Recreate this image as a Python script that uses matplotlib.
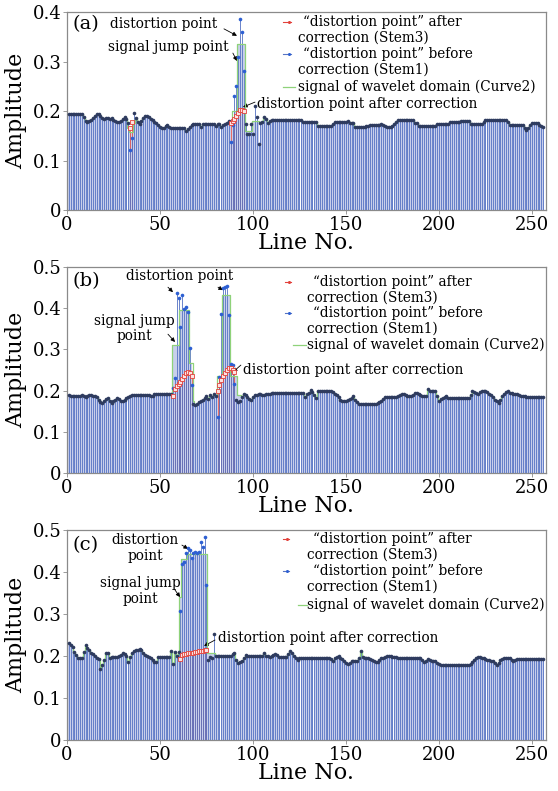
import numpy as np
import matplotlib
matplotlib.use('Agg')
import matplotlib.pyplot as plt
from matplotlib.lines import Line2D
from matplotlib.ticker import FuncFormatter

line_no = np.arange(1, 257)

# ---- panel (a) ----
stem1_a = [
    0.194, 0.194, 0.194, 0.194, 0.194, 0.194, 0.194, 0.194, 0.188, 0.180, 0.178, 0.179, 0.182, 0.186, 0.190, 0.194,
    0.194, 0.190, 0.186, 0.184, 0.185, 0.185, 0.183, 0.185, 0.182, 0.179, 0.178, 0.178, 0.180, 0.184, 0.188, 0.183,
    0.175, 0.121, 0.145, 0.196, 0.186, 0.178, 0.174, 0.180, 0.186, 0.189, 0.189, 0.187, 0.184, 0.181, 0.178, 0.175,
    0.172, 0.168, 0.166, 0.166, 0.170, 0.172, 0.168, 0.166, 0.166, 0.166, 0.166, 0.166, 0.166, 0.166, 0.166, 0.160,
    0.163, 0.168, 0.172, 0.174, 0.174, 0.174, 0.174, 0.168, 0.174, 0.174, 0.174, 0.174, 0.174, 0.174, 0.174, 0.170,
    0.174, 0.174, 0.168, 0.172, 0.174, 0.175, 0.180, 0.138, 0.172, 0.230, 0.250, 0.310, 0.385, 0.360, 0.280, 0.174,
    0.153, 0.153, 0.174, 0.153, 0.210, 0.188, 0.133, 0.175, 0.178, 0.188, 0.184, 0.175, 0.180, 0.182, 0.182, 0.182,
    0.182, 0.182, 0.182, 0.182, 0.182, 0.182, 0.182, 0.182, 0.182, 0.182, 0.182, 0.182, 0.182, 0.182, 0.177, 0.177,
    0.177, 0.177, 0.177, 0.177, 0.177, 0.177, 0.170, 0.170, 0.170, 0.170, 0.170, 0.170, 0.170, 0.170, 0.174, 0.177,
    0.177, 0.177, 0.177, 0.177, 0.177, 0.177, 0.179, 0.175, 0.175, 0.175, 0.168, 0.168, 0.168, 0.168, 0.168, 0.168,
    0.170, 0.170, 0.172, 0.172, 0.172, 0.172, 0.172, 0.172, 0.174, 0.172, 0.170, 0.168, 0.167, 0.167, 0.170, 0.174,
    0.178, 0.181, 0.181, 0.181, 0.181, 0.181, 0.181, 0.181, 0.181, 0.181, 0.176, 0.176, 0.170, 0.170, 0.170, 0.170,
    0.170, 0.170, 0.170, 0.170, 0.170, 0.170, 0.173, 0.173, 0.173, 0.173, 0.173, 0.173, 0.173, 0.177, 0.177, 0.177,
    0.177, 0.177, 0.177, 0.180, 0.180, 0.180, 0.180, 0.180, 0.174, 0.174, 0.174, 0.174, 0.174, 0.174, 0.174, 0.178,
    0.181, 0.181, 0.181, 0.181, 0.181, 0.181, 0.181, 0.181, 0.181, 0.181, 0.181, 0.181, 0.177, 0.172, 0.172, 0.172,
    0.172, 0.172, 0.172, 0.172, 0.172, 0.166, 0.162, 0.166, 0.172, 0.176, 0.176, 0.176, 0.176, 0.172, 0.170, 0.168,
]
stem3_a_x = [34, 35, 88, 89, 90, 91, 92, 93, 94, 95]
stem3_a_y = [0.166, 0.177, 0.176, 0.180, 0.184, 0.190, 0.196, 0.202, 0.203, 0.200]
curve2_a_x = [33, 34, 35, 36, 88, 89, 90, 91, 92, 93, 94, 95, 96, 97, 98, 99, 100, 101, 102, 103, 104]
curve2_a_y = [0.165, 0.158, 0.158, 0.175, 0.175, 0.200, 0.200, 0.200, 0.336, 0.336, 0.336, 0.336,
              0.160, 0.160, 0.160, 0.160, 0.180, 0.180, 0.180, 0.180, 0.178]

# ---- panel (b) ----
stem1_b = [
    0.190, 0.186, 0.186, 0.186, 0.186, 0.186, 0.188, 0.190, 0.186, 0.184, 0.188, 0.190, 0.190, 0.188, 0.186, 0.184,
    0.178, 0.172, 0.170, 0.176, 0.180, 0.181, 0.176, 0.170, 0.174, 0.178, 0.181, 0.180, 0.176, 0.175, 0.178, 0.182,
    0.185, 0.186, 0.190, 0.190, 0.190, 0.190, 0.190, 0.190, 0.190, 0.190, 0.190, 0.190, 0.188, 0.188, 0.193, 0.193,
    0.193, 0.193, 0.193, 0.193, 0.193, 0.193, 0.193, 0.193, 0.207, 0.230, 0.438, 0.424, 0.355, 0.433, 0.399, 0.403,
    0.391, 0.303, 0.214, 0.168, 0.165, 0.168, 0.172, 0.176, 0.178, 0.182, 0.186, 0.180, 0.190, 0.184, 0.193, 0.186,
    0.137, 0.234, 0.387, 0.448, 0.452, 0.455, 0.383, 0.264, 0.262, 0.216, 0.177, 0.173, 0.176, 0.185, 0.193, 0.190,
    0.185, 0.180, 0.177, 0.184, 0.190, 0.190, 0.192, 0.193, 0.190, 0.190, 0.192, 0.192, 0.192, 0.195, 0.195, 0.195,
    0.195, 0.195, 0.195, 0.195, 0.195, 0.195, 0.195, 0.195, 0.195, 0.195, 0.195, 0.195, 0.195, 0.195, 0.195, 0.185,
    0.192, 0.195, 0.201, 0.196, 0.190, 0.181, 0.198, 0.198, 0.198, 0.198, 0.198, 0.198, 0.198, 0.198, 0.196, 0.193,
    0.190, 0.184, 0.178, 0.176, 0.174, 0.176, 0.178, 0.180, 0.183, 0.186, 0.178, 0.172, 0.168, 0.168, 0.168, 0.168,
    0.168, 0.168, 0.168, 0.168, 0.168, 0.168, 0.170, 0.173, 0.176, 0.180, 0.185, 0.185, 0.185, 0.185, 0.185, 0.185,
    0.185, 0.188, 0.190, 0.192, 0.193, 0.190, 0.188, 0.186, 0.186, 0.190, 0.195, 0.195, 0.192, 0.190, 0.188, 0.186,
    0.186, 0.203, 0.200, 0.200, 0.198, 0.198, 0.188, 0.176, 0.180, 0.182, 0.184, 0.186, 0.182, 0.182, 0.182, 0.182,
    0.182, 0.182, 0.182, 0.182, 0.182, 0.182, 0.182, 0.182, 0.190, 0.198, 0.196, 0.194, 0.192, 0.196, 0.200, 0.198,
    0.198, 0.196, 0.193, 0.190, 0.185, 0.178, 0.174, 0.170, 0.178, 0.186, 0.192, 0.196, 0.200, 0.195, 0.195, 0.193,
    0.192, 0.192, 0.190, 0.188, 0.186, 0.186, 0.184, 0.184, 0.184, 0.184, 0.184, 0.184, 0.184, 0.184, 0.184, 0.184,
]
stem3_b_x = [57, 58, 59, 60, 61, 62, 63, 64, 65, 66, 67,
             81, 82, 83, 84, 85, 86, 87, 88, 89, 90]
stem3_b_y = [0.187, 0.205, 0.212, 0.215, 0.220, 0.228, 0.236, 0.242, 0.245, 0.243, 0.236,
             0.200, 0.214, 0.226, 0.236, 0.243, 0.250, 0.255, 0.256, 0.250, 0.246]
curve2_b_x = [57, 58, 59, 60, 61, 62, 63, 64, 65, 66, 67, 68,
              81, 82, 83, 84, 85, 86, 87, 88, 89, 90, 91, 92, 93]
curve2_b_y = [0.310, 0.310, 0.310, 0.310, 0.395, 0.395, 0.395, 0.395, 0.395, 0.268, 0.268, 0.175,
              0.236, 0.236, 0.236, 0.433, 0.433, 0.433, 0.433, 0.236, 0.236, 0.236, 0.236, 0.190, 0.190]

# ---- panel (c) ----
stem1_c = [
    0.230, 0.226, 0.221, 0.210, 0.202, 0.194, 0.194, 0.194, 0.210, 0.226, 0.220, 0.214, 0.208, 0.204, 0.200, 0.196,
    0.192, 0.170, 0.179, 0.190, 0.208, 0.208, 0.194, 0.198, 0.198, 0.198, 0.198, 0.200, 0.203, 0.206, 0.204, 0.200,
    0.186, 0.198, 0.207, 0.213, 0.214, 0.214, 0.216, 0.214, 0.206, 0.202, 0.200, 0.198, 0.194, 0.190, 0.186, 0.185,
    0.198, 0.198, 0.198, 0.198, 0.198, 0.198, 0.198, 0.212, 0.182, 0.210, 0.200, 0.210, 0.307, 0.420, 0.424, 0.444,
    0.456, 0.452, 0.433, 0.444, 0.448, 0.446, 0.448, 0.471, 0.460, 0.484, 0.370, 0.190, 0.198, 0.196, 0.252, 0.200,
    0.200, 0.200, 0.200, 0.200, 0.200, 0.200, 0.200, 0.200, 0.204, 0.208, 0.190, 0.184, 0.186, 0.189, 0.196, 0.202,
    0.200, 0.200, 0.200, 0.200, 0.200, 0.200, 0.200, 0.200, 0.200, 0.206, 0.200, 0.200, 0.197, 0.200, 0.202, 0.204,
    0.202, 0.198, 0.198, 0.198, 0.198, 0.198, 0.205, 0.211, 0.206, 0.201, 0.196, 0.190, 0.196, 0.196, 0.196, 0.196,
    0.196, 0.196, 0.196, 0.196, 0.196, 0.196, 0.196, 0.196, 0.196, 0.196, 0.196, 0.196, 0.196, 0.192, 0.187, 0.194,
    0.198, 0.200, 0.196, 0.192, 0.187, 0.184, 0.182, 0.184, 0.187, 0.188, 0.189, 0.189, 0.195, 0.211, 0.198, 0.196,
    0.194, 0.194, 0.192, 0.190, 0.188, 0.186, 0.185, 0.190, 0.196, 0.196, 0.198, 0.200, 0.200, 0.200, 0.198, 0.198,
    0.197, 0.196, 0.195, 0.195, 0.195, 0.195, 0.195, 0.195, 0.195, 0.195, 0.195, 0.195, 0.195, 0.195, 0.190, 0.185,
    0.188, 0.193, 0.190, 0.188, 0.187, 0.187, 0.184, 0.181, 0.179, 0.179, 0.179, 0.179, 0.179, 0.179, 0.179, 0.179,
    0.179, 0.179, 0.179, 0.179, 0.179, 0.179, 0.179, 0.179, 0.181, 0.186, 0.190, 0.195, 0.198, 0.198, 0.196, 0.194,
    0.192, 0.190, 0.190, 0.189, 0.187, 0.183, 0.178, 0.184, 0.190, 0.193, 0.194, 0.194, 0.194, 0.194, 0.191, 0.189,
    0.190, 0.192, 0.193, 0.193, 0.193, 0.193, 0.193, 0.193, 0.193, 0.193, 0.193, 0.193, 0.193, 0.193, 0.193, 0.193,
]
stem3_c_x = [61, 62, 63, 64, 65, 66, 67, 68, 69, 70, 71, 72, 73, 74, 75]
stem3_c_y = [0.192, 0.203, 0.205, 0.205, 0.206, 0.207, 0.207, 0.208, 0.209, 0.210, 0.211, 0.212, 0.213, 0.214, 0.215]
curve2_c_x = [61, 62, 63, 64, 65, 66, 67, 68, 69, 70, 71, 72, 73, 74, 75, 76, 77, 78, 79]
curve2_c_y = [0.340, 0.430, 0.430, 0.430, 0.442, 0.442, 0.442, 0.442, 0.442, 0.442, 0.442, 0.442, 0.442,
              0.442, 0.442, 0.207, 0.207, 0.207, 0.207]

legend_labels = ['\u201cdistortion point\u201d after', 'correction (Stem3)',
                 '\u201cdistortion point\u201d before', 'correction (Stem1)',
                 'signal of wavelet domain (Curve2)']

plt.rcParams['font.family'] = 'DejaVu Serif'

C_FILL = '#c8cfeb'
C_STEM = '#5774c4'
C_DOT = '#2e3b5f'
C_BLUE = '#2d5fd2'
C_RED = '#e2413b'
C_GREEN = '#8fd27a'
C_FRAME = '#8a8a8a'
FS = 9.8

fig = plt.figure(figsize=(5.58, 7.91), dpi=100)


def draw_panel(rect, stem1, s3x, s3y, c2x, c2y, ytop, tag, leg):
    ax = fig.add_axes(rect)
    v1 = np.array(stem1)
    curve = v1.copy()
    curve[np.array(c2x) - 1] = c2y
    mask = np.isin(line_no, s3x)

    ax.bar(line_no, curve, width=0.9, color=C_FILL, linewidth=0, zorder=1)
    ax.vlines(s3x, 0, s3y, color=C_RED, lw=0.55, zorder=2)
    ax.vlines(line_no, 0, v1, color=C_STEM, lw=0.62, zorder=3)
    ax.plot(line_no, curve, drawstyle='steps-mid', color=C_GREEN, lw=0.9, zorder=3.5)
    ax.plot(line_no[~mask], v1[~mask], 'o', ms=2.6, color=C_DOT, mew=0, zorder=4)
    ax.plot(line_no[mask], v1[mask], 'o', ms=2.6, color=C_BLUE, mew=0, zorder=4)
    ax.plot(s3x, s3y, 's', ms=2.2, mfc='#fbe3e1', mec=C_RED, mew=0.6, zorder=5)

    ax.set_xlim(0, 257.5)
    ax.set_ylim(0, ytop)
    ax.set_xticks([0, 50, 100, 150, 200, 250])
    ax.set_yticks(np.arange(0, ytop + 0.001, 0.1))
    ax.yaxis.set_major_formatter(FuncFormatter(lambda v, p: '0' if abs(v) < 1e-9 else '%.1f' % v))
    ax.tick_params(labelsize=13, length=3, width=0.6, color=C_FRAME, pad=1)
    for s in ax.spines.values():
        s.set_color(C_FRAME)
        s.set_linewidth(0.9)
    ax.set_xlabel('Line No.', fontsize=16, labelpad=-1)
    ax.set_ylabel('Amplitude', fontsize=16, labelpad=4)
    ax.text(0.012, tag[1], tag[0], transform=ax.transAxes, fontsize=14, va='center', ha='left')

    # legend drawn by hand, no frame
    tr = ax.transAxes
    rows = leg['rows']
    hx0, hx1, gx0, gx1, tx1, tx2 = leg['x']
    for r, lc, mc in ((rows[0], C_RED, C_RED), (rows[2], C_STEM, C_BLUE)):
        ax.add_line(Line2D([hx0, hx1], [r, r], transform=tr, color=lc, lw=0.8, zorder=6))
        ax.add_line(Line2D([hx1 - 0.004], [r], transform=tr, marker='o', ms=2.2, mew=0, color=mc, zorder=6))
    ax.add_line(Line2D([gx0, gx1], [rows[4], rows[4]], transform=tr, color=C_GREEN, lw=0.9, zorder=6))
    for i, lab in enumerate(legend_labels):
        tx = tx1 if i in (0, 2) else tx2
        ax.text(tx, rows[i], lab, transform=tr, fontsize=FS, va='center', ha='left', zorder=7)
    return ax


arrow = dict(arrowstyle='-|>', color='black', lw=0.6, mutation_scale=6, shrinkA=0, shrinkB=0)

# (a)
ax = draw_panel([0.120, 0.7345, 0.8584, 0.2503], stem1_a, stem3_a_x, stem3_a_y, curve2_a_x, curve2_a_y,
                0.4, ('(a)', 0.939),
                dict(rows=[0.949, 0.869, 0.788, 0.707, 0.621],
                     x=(0.451, 0.467, 0.451, 0.476, 0.493, 0.482)))
ax.text(52.2, 0.376, 'distortion point', fontsize=FS, ha='center', va='center')
ax.annotate('', xy=(91.4, 0.352), xytext=(84.4, 0.366), arrowprops=arrow)
ax.text(54.3, 0.329, 'signal jump point', fontsize=FS, ha='center', va='center')
ax.annotate('', xy=(91.4, 0.301), xytext=(89.2, 0.317), arrowprops=arrow)
ax.text(102.2, 0.214, 'distortion point after correction', fontsize=FS, ha='left', va='center')
ax.annotate('', xy=(94.6, 0.208), xytext=(101.1, 0.218), arrowprops=arrow)

# (b)
ax = draw_panel([0.120, 0.402, 0.8584, 0.2604], stem1_b, stem3_b_x, stem3_b_y, curve2_b_x, curve2_b_y,
                0.5, ('(b)', 0.932),
                dict(rows=[0.927, 0.850, 0.777, 0.699, 0.621],
                     x=(0.455, 0.468, 0.472, 0.499, 0.514, 0.501)))
ax.text(60.8, 0.478, 'distortion point', fontsize=FS, ha='center', va='center')
ax.annotate('', xy=(57.0, 0.439), xytext=(54.3, 0.451), arrowprops=arrow)
ax.annotate('', xy=(83.9, 0.444), xytext=(81.2, 0.451), arrowprops=arrow)
ax.text(36.0, 0.351, 'signal jump\npoint', fontsize=FS, ha='center', va='center', linespacing=1.15)
ax.annotate('', xy=(58.1, 0.318), xytext=(54.3, 0.337), arrowprops=arrow)
ax.text(94.6, 0.250, 'distortion point after correction', fontsize=FS, ha='left', va='center')
ax.annotate('', xy=(89.2, 0.245), xytext=(93.5, 0.262), arrowprops=arrow)

# (c)
ax = draw_panel([0.120, 0.0645, 0.8584, 0.2655], stem1_c, stem3_c_x, stem3_c_y, curve2_c_x, curve2_c_y,
                0.5, ('(c)', 0.929),
                dict(rows=[0.957, 0.881, 0.805, 0.729, 0.643],
                     x=(0.451, 0.463, 0.482, 0.501, 0.514, 0.501)))
ax.text(42.2, 0.457, 'distortion\npoint', fontsize=FS, ha='center', va='center', linespacing=1.15)
ax.annotate('', xy=(65.1, 0.455), xytext=(61.8, 0.464), arrowprops=arrow)
ax.text(39.2, 0.354, 'signal jump\npoint', fontsize=FS, ha='center', va='center', linespacing=1.15)
ax.annotate('', xy=(60.8, 0.340), xytext=(58.1, 0.357), arrowprops=arrow)
ax.text(81.2, 0.243, 'distortion point after correction', fontsize=FS, ha='left', va='center')
ax.annotate('', xy=(73.7, 0.224), xytext=(79.6, 0.238), arrowprops=arrow)

fig.savefig('out.png', dpi=100)
